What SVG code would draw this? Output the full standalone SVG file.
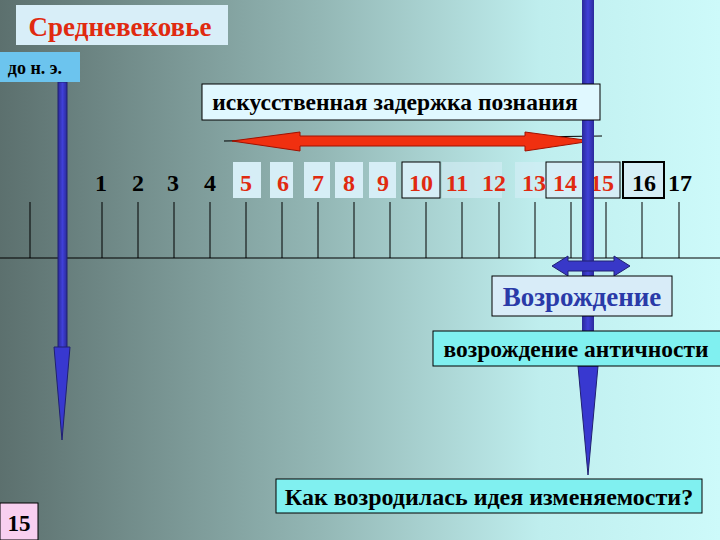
<svg xmlns="http://www.w3.org/2000/svg" width="720" height="540" viewBox="0 0 720 540" font-family="'Liberation Serif', 'Times New Roman', serif" font-weight="bold">
<defs>
<linearGradient id="bg" x1="0" y1="0" x2="1" y2="0">
<stop offset="0" stop-color="#5c706e"/>
<stop offset="0.45" stop-color="#94b8b6"/>
<stop offset="0.75" stop-color="#bfeeee"/>
<stop offset="1" stop-color="#cdfafa"/>
</linearGradient>
<linearGradient id="blue" x1="0" y1="0" x2="1" y2="0">
<stop offset="0" stop-color="#2a2a9a"/>
<stop offset="0.5" stop-color="#4040d8"/>
<stop offset="1" stop-color="#2a2a9a"/>
</linearGradient>
</defs>
<style>
text{font-family:"Liberation Serif","Times New Roman",serif;font-weight:bold}
.num{font-size:24px;text-anchor:middle}
.r{fill:#e02a10}
.k{fill:#000}
.nb{fill:#d6eef6}
.tick{stroke:#000;stroke-width:1}
</style>
<rect width="720" height="540" fill="url(#bg)"/>

<g id="axis">
<line x1="0" y1="258" x2="720" y2="258" stroke="#000" stroke-width="1.2"/>
<g class="tick">
<line x1="30" y1="202" x2="30" y2="258"/>
<line x1="102" y1="202" x2="102" y2="258"/>
<line x1="138" y1="202" x2="138" y2="258"/>
<line x1="174" y1="202" x2="174" y2="258"/>
<line x1="210" y1="202" x2="210" y2="258"/>
<line x1="246" y1="202" x2="246" y2="258"/>
<line x1="282" y1="202" x2="282" y2="258"/>
<line x1="318" y1="202" x2="318" y2="258"/>
<line x1="354" y1="202" x2="354" y2="258"/>
<line x1="390" y1="202" x2="390" y2="258"/>
<line x1="426" y1="202" x2="426" y2="258"/>
<line x1="462" y1="202" x2="462" y2="258"/>
<line x1="499" y1="202" x2="499" y2="258"/>
<line x1="535" y1="202" x2="535" y2="258"/>
<line x1="571" y1="202" x2="571" y2="258"/>
<line x1="606" y1="202" x2="606" y2="258"/>
<line x1="642" y1="202" x2="642" y2="258"/>
<line x1="679" y1="202" x2="679" y2="258"/>
</g>
</g>

<g id="numbers">
<rect class="nb" x="233" y="162" width="28" height="36"/>
<rect class="nb" x="270" y="162" width="23" height="36"/>
<rect class="nb" x="304" y="162" width="26" height="36"/>
<rect class="nb" x="335" y="162" width="28" height="36"/>
<rect class="nb" x="369" y="162" width="27" height="36"/>
<rect class="nb" x="402" y="162" width="38" height="36" stroke="#000" stroke-width="1"/>
<rect class="nb" x="442" y="162" width="60" height="36" opacity="0.6"/>
<rect class="nb" x="515" y="162" width="31" height="36" opacity="0.6"/>
<rect class="nb" x="546" y="162" width="38" height="36" stroke="#000" stroke-width="1"/>
<rect class="nb" x="584" y="162" width="36" height="36" stroke="#000" stroke-width="1"/>
<rect class="nb" x="623" y="162" width="41" height="36" stroke="#000" stroke-width="2"/>
<text class="num k" x="101" y="191">1</text>
<text class="num k" x="138" y="191">2</text>
<text class="num k" x="173" y="191">3</text>
<text class="num k" x="210" y="191">4</text>
<text class="num r" x="246" y="191">5</text>
<text class="num r" x="283" y="191">6</text>
<text class="num r" x="318" y="191">7</text>
<text class="num r" x="349" y="191">8</text>
<text class="num r" x="383" y="191">9</text>
<text class="num r" x="421" y="191">10</text>
<text class="num r" x="457" y="191">11</text>
<text class="num r" x="494" y="191">12</text>
<text class="num r" x="534" y="191">13</text>
<text class="num r" x="565" y="191">14</text>
<text class="num r" x="602" y="191">15</text>
<text class="num k" x="644" y="191">16</text>
<text class="num k" x="680" y="191">17</text>
</g>

<g id="connectors">
<line x1="224" y1="141" x2="602" y2="136" stroke="#000" stroke-width="1"/>
<polygon points="232,141 300,132 300,136 525,136 525,132 592,141 525,151 525,146 300,146 300,151" fill="#f03010" stroke="#a01000" stroke-width="1"/>
<rect x="58" y="82" width="9" height="266" fill="url(#blue)" stroke="#202070" stroke-width="1"/>
<polygon points="54,347 70,347 62,440" fill="#3838d0" stroke="#202070" stroke-width="1"/>
<rect x="582" y="0" width="12" height="366" fill="url(#blue)"/>
<polygon points="578,366 598,366 588,475" fill="#3838d0" stroke="#202070" stroke-width="1"/>
<polygon points="552,266 568,256 568,261 614,261 614,256 630,266 614,276 614,271 568,271 568,276" fill="#3838c8" stroke="#202070" stroke-width="1"/>
</g>

<g id="n-sredn">
<rect x="16" y="5" width="212" height="40" fill="#d8eef8"/>
<text x="120" y="36" font-size="27" fill="#e02a10" text-anchor="middle">Средневековье</text>
</g>
<g id="n-dne">
<rect x="0" y="52" width="80" height="30" fill="#6cc4ee"/>
<text x="35" y="74" font-size="18" fill="#000" text-anchor="middle">до н. э.</text>
</g>
<g id="n-zaderzhka">
<rect x="202" y="84" width="398" height="36" fill="#e0f8ff" stroke="#000" stroke-width="1"/>
<text x="395" y="110" font-size="23.5" fill="#000" text-anchor="middle">искусственная задержка познания</text>
</g>
<g id="n-vozr">
<rect x="492" y="276" width="180" height="40" fill="#d8ecf8" stroke="#000" stroke-width="1"/>
<text x="582" y="306" font-size="27" fill="#2a3aa8" text-anchor="middle">Возрождение</text>
</g>
<g id="n-antich">
<rect x="433" y="331" width="290" height="35" fill="#80f0f0" stroke="#000" stroke-width="1"/>
<text x="576" y="357" font-size="23.5" fill="#000" text-anchor="middle">возрождение античности</text>
</g>
<g id="n-question">
<rect x="276" y="479" width="426" height="34" fill="#80f0f0" stroke="#000" stroke-width="1"/>
<text x="489" y="505" font-size="24" fill="#000" text-anchor="middle">Как возродилась идея изменяемости?</text>
</g>
<g id="n-page">
<rect x="0" y="503" width="38" height="37" fill="#f8d0f0" stroke="#000" stroke-width="1"/>
<text x="19" y="531" font-size="23" fill="#000" text-anchor="middle">15</text>
</g>
</svg>
